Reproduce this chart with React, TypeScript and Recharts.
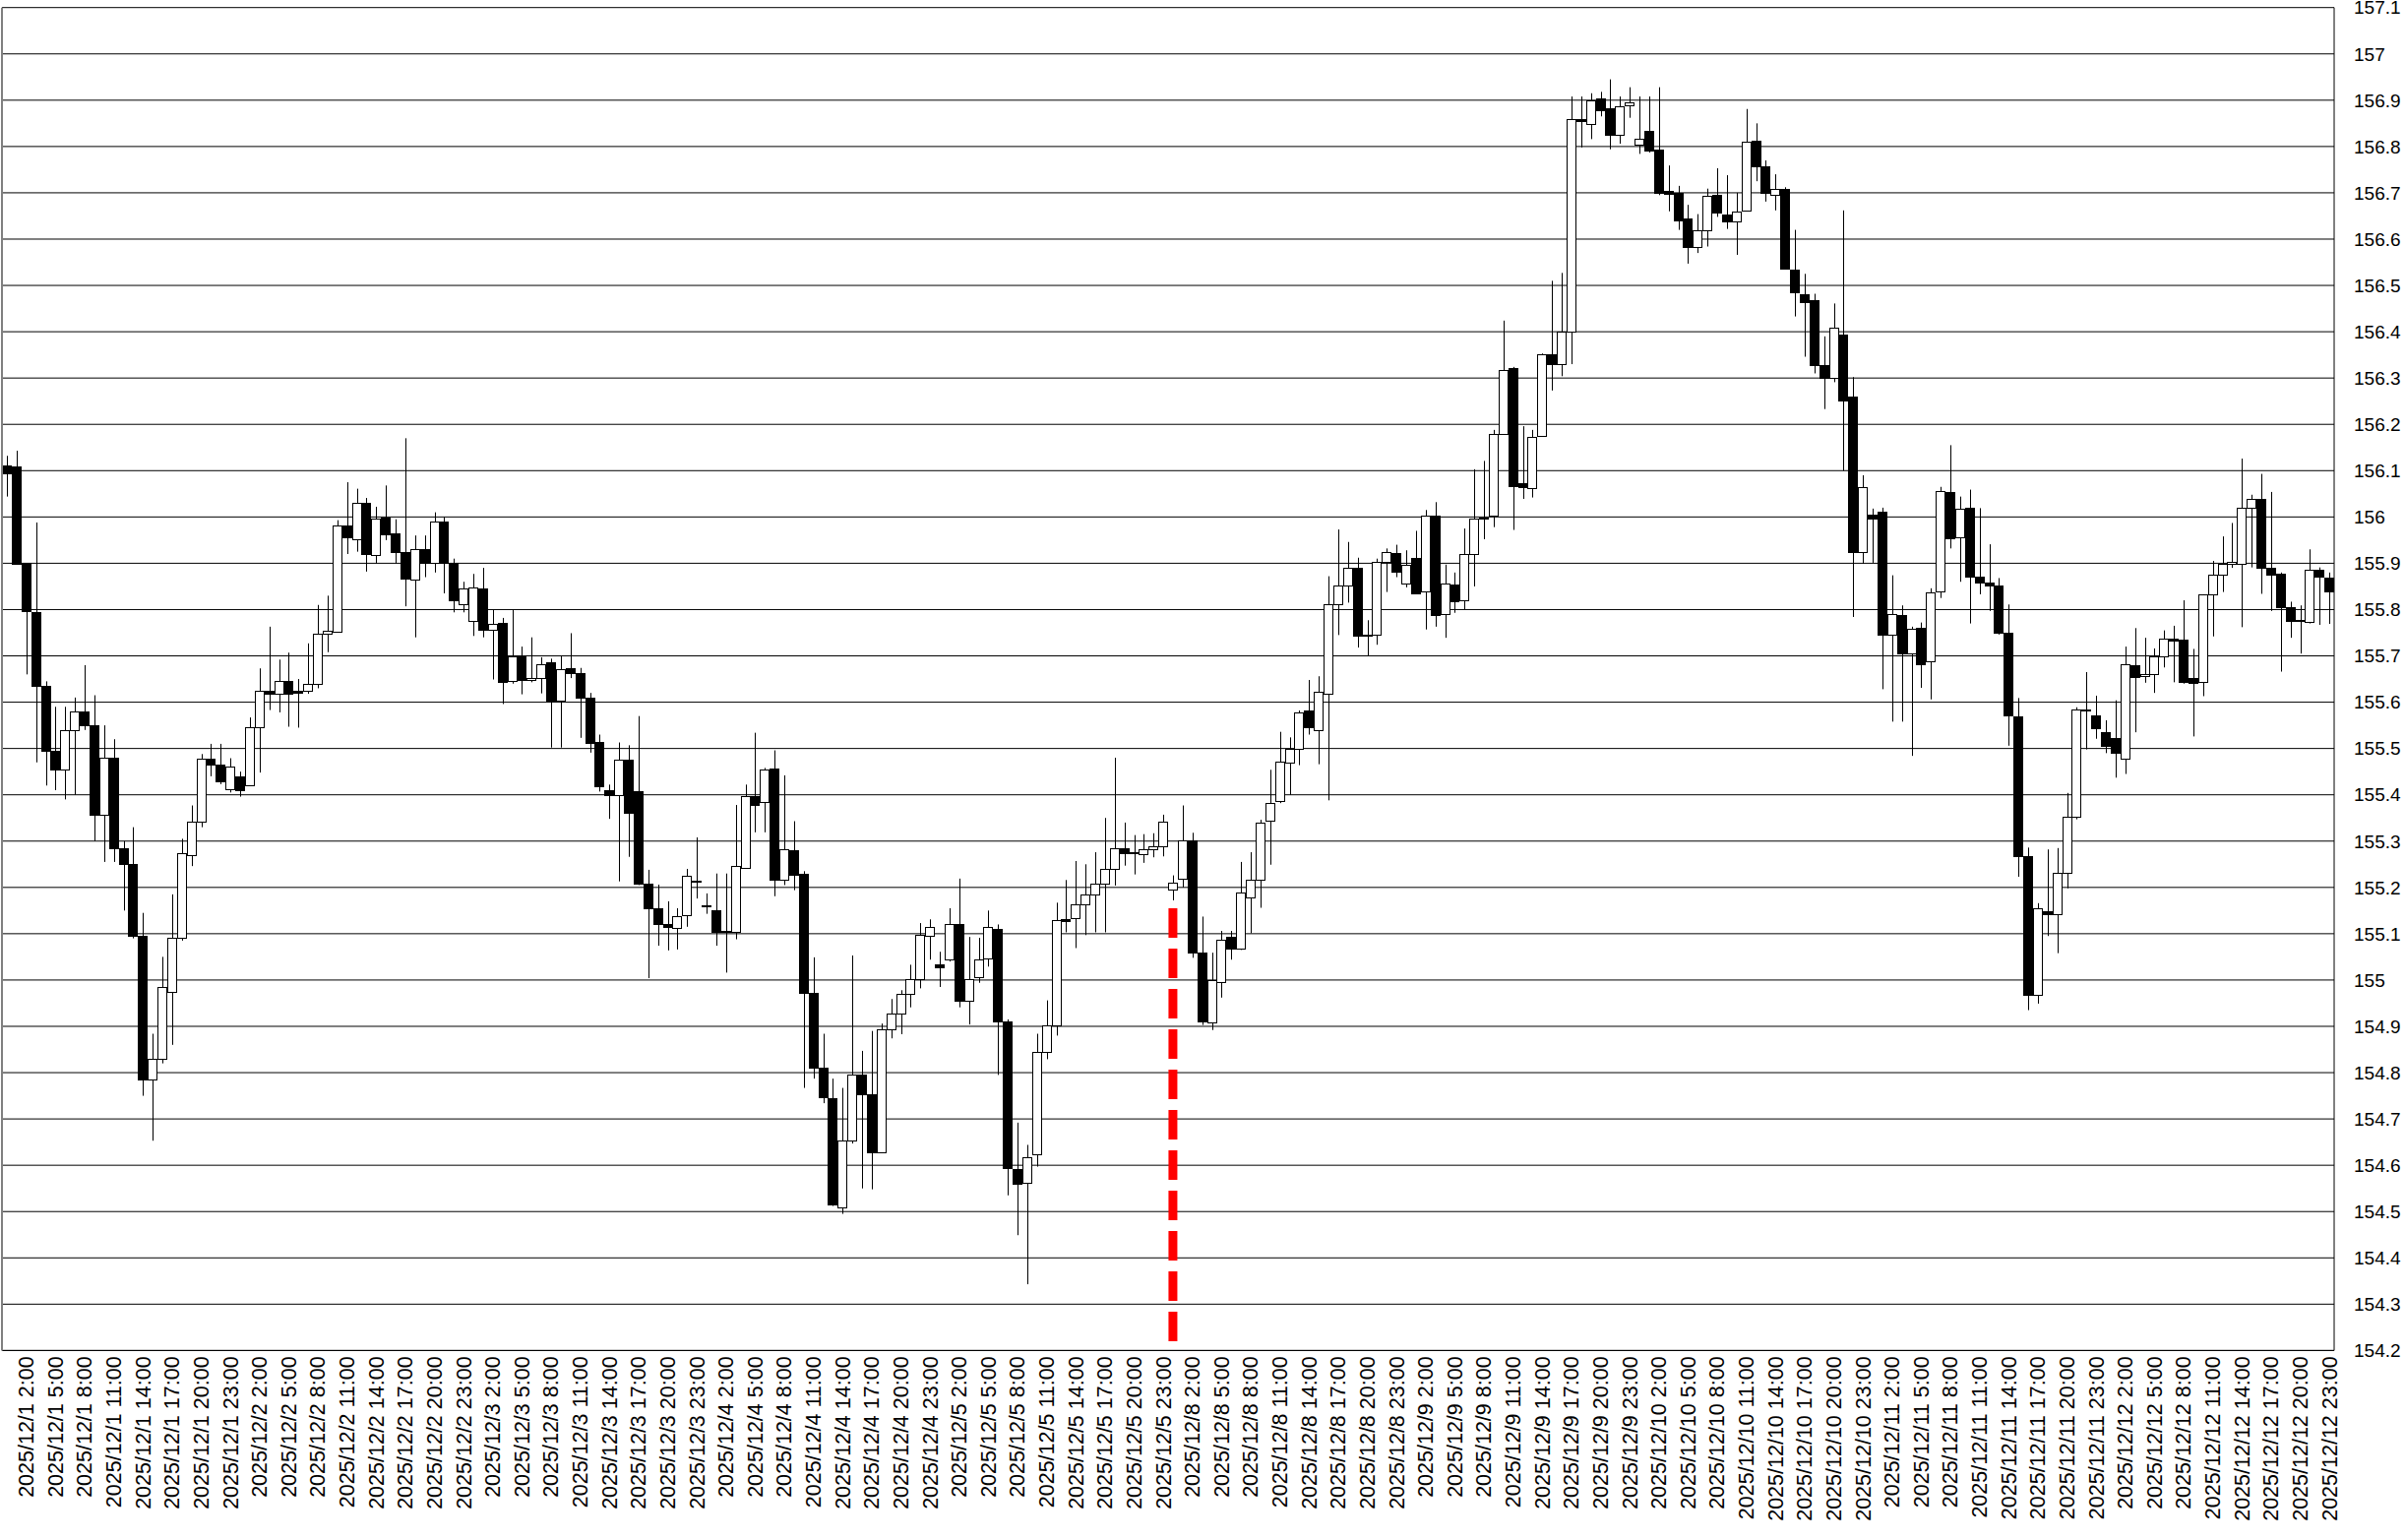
import React from 'react';
import { ComposedChart, Bar, XAxis, YAxis, CartesianGrid, ReferenceLine } from 'recharts';

// trading days shown (weekend skipped), hourly candles
const days = [
  '2025/12/1', '2025/12/2', '2025/12/3', '2025/12/4', '2025/12/5',
  '2025/12/8', '2025/12/9', '2025/12/10', '2025/12/11', '2025/12/12',
];
const hours = [0, 1, 2, 3, 4, 5, 6, 7, 8, 9, 10, 11, 12, 13, 14, 15, 16, 17, 18, 19, 20, 21, 22, 23];

const opens = [
  156.112, 156.11, 155.9, 155.795, 155.635, 155.494, 155.454, 155.54, 155.58, 155.55,
  155.357, 155.48, 155.284, 155.25, 155.095, 154.785, 154.83, 154.975, 155.092, 155.27,
  155.342, 155.479, 155.465, 155.413, 155.44, 155.42, 155.547, 155.625, 155.618, 155.646,
  155.625, 155.625, 155.64, 155.748, 155.752, 155.981, 155.951, 156.03, 155.917, 155.998,
  155.965, 155.925, 155.864, 155.93, 155.9, 155.99, 155.9, 155.812, 155.775, 155.846,
  155.757, 155.772, 155.645, 155.7, 155.649, 155.652, 155.686, 155.603, 155.674, 155.663,
  155.609, 155.515, 155.41, 155.4, 155.475, 155.407, 155.209, 155.154, 155.12, 155.113,
  155.141, 155.215, 155.16, 155.15, 155.105, 155.105, 155.242, 155.398, 155.384, 155.456,
  155.216, 155.281, 155.23, 154.973, 154.81, 154.744, 154.51, 154.654, 154.796, 154.753,
  154.628, 154.893, 154.928, 154.971, 155.003, 155.095, 155.034, 155.044, 155.122, 154.956,
  155.006, 155.046, 155.11, 154.911, 154.592, 154.562, 154.624, 154.844, 154.902, 155.131,
  155.133, 155.164, 155.184, 155.208, 155.239, 155.285, 155.277, 155.272, 155.282, 155.288,
  155.195, 155.219, 155.302, 155.059, 154.909, 154.995, 155.093, 155.067, 155.179, 155.217,
  155.344, 155.386, 155.47, 155.499, 155.582, 155.54, 155.618, 155.812, 155.851, 155.891,
  155.743, 155.745, 155.903, 155.923, 155.856, 155.911, 155.84, 156.002, 155.791, 155.854,
  155.821, 155.921, 155.999, 156.003, 156.18, 156.321, 156.073, 156.062, 156.176, 156.351,
  156.33, 156.401, 156.86, 156.849, 156.903, 156.882, 156.826, 156.89, 156.805, 156.833,
  156.793, 156.704, 156.699, 156.644, 156.584, 156.62, 156.695, 156.653, 156.639, 156.661,
  156.812, 156.757, 156.696, 156.708, 156.535, 156.482, 156.468, 156.328, 156.3, 156.394,
  156.259, 155.924, 156.005, 156.012, 155.745, 155.789, 155.705, 155.76, 155.689, 155.839,
  156.053, 155.957, 156.019, 155.871, 155.858, 155.852, 155.75, 155.569, 155.268, 154.967,
  155.148, 155.142, 155.231, 155.353, 155.584, 155.571, 155.535, 155.522, 155.478, 155.679,
  155.656, 155.661, 155.7, 155.737, 155.735, 155.653, 155.644, 155.833, 155.875, 155.898,
  155.899, 156.02, 156.04, 155.891, 155.878, 155.806, 155.775, 155.774, 155.885, 155.87,
];

const highs = [
  156.132, 156.143, 155.9, 155.988, 155.645, 155.59, 155.59, 155.61, 155.68, 155.615,
  155.55, 155.52, 155.3, 155.33, 155.145, 154.884, 155.05, 155.185, 155.305, 155.377,
  155.488, 155.51, 155.51, 155.479, 155.45, 155.567, 155.673, 155.763, 155.692, 155.707,
  155.65, 155.727, 155.81, 155.83, 155.993, 156.075, 156.061, 156.041, 156.022, 156.068,
  155.995, 156.17, 155.96, 155.96, 156.01, 156.0, 155.91, 155.86, 155.877, 155.89,
  155.8, 155.782, 155.8, 155.72, 155.74, 155.697, 155.694, 155.7, 155.749, 155.674,
  155.62, 155.53, 155.422, 155.513, 155.507, 155.57, 155.238, 155.206, 155.17, 155.155,
  155.24, 155.308, 155.187, 155.23, 155.23, 155.378, 155.422, 155.534, 155.458, 155.496,
  155.442, 155.343, 155.235, 155.049, 154.884, 154.787, 154.767, 155.053, 154.847, 154.89,
  154.906, 154.959, 154.978, 155.033, 155.123, 155.131, 155.061, 155.155, 155.219, 155.093,
  155.091, 155.15, 155.12, 154.915, 154.692, 154.644, 154.884, 154.956, 155.167, 155.216,
  155.257, 155.25, 155.276, 155.35, 155.48, 155.34, 155.313, 155.315, 155.317, 155.357,
  155.226, 155.377, 155.318, 155.137, 155.059, 155.106, 155.106, 155.255, 155.276, 155.346,
  155.454, 155.536, 155.524, 155.582, 155.648, 155.656, 155.872, 155.973, 155.946, 155.912,
  155.777, 155.91, 155.932, 155.94, 155.928, 155.97, 156.015, 156.032, 155.897, 155.88,
  155.975, 156.103, 156.121, 156.188, 156.424, 156.324, 156.196, 156.188, 156.353, 156.51,
  156.527, 156.908, 156.908, 156.915, 156.918, 156.945, 156.908, 156.928, 156.908, 156.908,
  156.928, 156.759, 156.715, 156.674, 156.654, 156.709, 156.753, 156.738, 156.7, 156.881,
  156.85, 156.77, 156.74, 156.712, 156.62, 156.525, 156.482, 156.39, 156.461, 156.662,
  156.302, 156.09, 156.018, 156.02, 155.874, 155.809, 155.763, 155.772, 155.846, 156.065,
  156.155, 156.044, 156.059, 156.019, 155.941, 155.868, 155.811, 155.609, 155.286, 155.166,
  155.282, 155.285, 155.404, 155.589, 155.665, 155.614, 155.561, 155.604, 155.72, 155.76,
  155.739, 155.716, 155.755, 155.765, 155.82, 155.715, 155.833, 155.905, 155.958, 155.987,
  156.126, 156.048, 156.093, 156.054, 155.88, 155.817, 155.809, 155.93, 155.891, 155.88,
];

const lows = [
  156.044, 155.898, 155.66, 155.47, 155.42, 155.41, 155.39, 155.4, 155.54, 155.3,
  155.255, 155.255, 155.15, 155.09, 154.75, 154.653, 154.82, 154.86, 155.085, 155.246,
  155.33, 155.44, 155.423, 155.405, 155.396, 155.42, 155.448, 155.583, 155.578, 155.547,
  155.545, 155.618, 155.63, 155.708, 155.752, 155.92, 155.925, 155.882, 155.9, 155.95,
  155.9, 155.807, 155.74, 155.87, 155.88, 155.835, 155.794, 155.794, 155.743, 155.74,
  155.649, 155.596, 155.64, 155.617, 155.643, 155.619, 155.502, 155.502, 155.652, 155.523,
  155.491, 155.407, 155.348, 155.213, 155.266, 155.205, 155.004, 155.074, 155.064, 155.066,
  155.115, 155.176, 155.143, 155.074, 155.016, 155.088, 155.242, 155.319, 155.319, 155.181,
  155.205, 155.194, 154.767, 154.787, 154.734, 154.512, 154.495, 154.647, 154.55, 154.548,
  154.626, 154.874, 154.883, 154.941, 154.982, 155.044, 154.985, 155.04, 154.941, 154.904,
  154.994, 155.029, 154.795, 154.535, 154.449, 154.343, 154.597, 154.829, 154.88, 155.103,
  155.069, 155.097, 155.103, 155.103, 155.204, 155.247, 155.228, 155.253, 155.265, 155.267,
  155.172, 155.2, 155.048, 154.903, 154.892, 154.962, 155.044, 155.065, 155.101, 155.156,
  155.249, 155.382, 155.4, 155.464, 155.53, 155.466, 155.388, 155.745, 155.815, 155.718,
  155.701, 155.724, 155.838, 155.87, 155.848, 155.834, 155.757, 155.763, 155.739, 155.793,
  155.799, 155.85, 155.952, 155.978, 156.18, 155.972, 156.039, 156.042, 156.176, 156.273,
  156.304, 156.33, 156.798, 156.816, 156.865, 156.794, 156.806, 156.862, 156.784, 156.787,
  156.695, 156.66, 156.62, 156.547, 156.57, 156.584, 156.648, 156.622, 156.566, 156.661,
  156.725, 156.681, 156.662, 156.537, 156.433, 156.346, 156.31, 156.233, 156.291, 156.1,
  155.784, 155.899, 155.901, 155.628, 155.558, 155.558, 155.484, 155.631, 155.606, 155.825,
  155.932, 155.86, 155.77, 155.833, 155.797, 155.746, 155.506, 155.223, 154.935, 154.949,
  155.095, 155.058, 155.198, 155.347, 155.498, 155.521, 155.49, 155.437, 155.445, 155.535,
  155.642, 155.62, 155.675, 155.643, 155.64, 155.526, 155.613, 155.742, 155.838, 155.89,
  155.762, 155.891, 155.834, 155.797, 155.666, 155.739, 155.705, 155.77, 155.767, 155.769,
];

const closes = [
  156.095, 155.898, 155.797, 155.635, 155.494, 155.454, 155.54, 155.58, 155.55, 155.357,
  155.48, 155.284, 155.25, 155.095, 154.785, 154.829, 154.985, 155.092, 155.273, 155.342,
  155.479, 155.465, 155.43, 155.46, 155.41, 155.547, 155.625, 155.618, 155.646, 155.618,
  155.62, 155.64, 155.748, 155.754, 155.981, 155.956, 156.03, 155.919, 155.996, 155.962,
  155.925, 155.867, 155.93, 155.9, 155.99, 155.9, 155.821, 155.845, 155.848, 155.757,
  155.77, 155.644, 155.699, 155.649, 155.652, 155.683, 155.603, 155.672, 155.663, 155.61,
  155.513, 155.418, 155.4, 155.475, 155.362, 155.208, 155.154, 155.12, 155.114, 155.138,
  155.226, 155.212, 155.162, 155.103, 155.107, 155.246, 155.398, 155.378, 155.455, 155.216,
  155.282, 155.228, 154.973, 154.81, 154.746, 154.516, 154.654, 154.796, 154.753, 154.628,
  154.893, 154.928, 154.971, 155.003, 155.098, 155.114, 155.028, 155.122, 154.955, 155.003,
  155.045, 155.114, 154.91, 154.595, 154.561, 154.617, 154.844, 154.902, 155.13, 155.128,
  155.164, 155.184, 155.208, 155.239, 155.285, 155.275, 155.275, 155.282, 155.288, 155.342,
  155.21, 155.302, 155.059, 154.911, 154.999, 155.088, 155.067, 155.19, 155.217, 155.34,
  155.382, 155.471, 155.5, 155.578, 155.547, 155.622, 155.812, 155.851, 155.891, 155.743,
  155.745, 155.903, 155.925, 155.881, 155.897, 155.836, 156.002, 155.788, 155.856, 155.818,
  155.921, 155.997, 155.998, 156.18, 156.318, 156.066, 156.064, 156.173, 156.351, 156.33,
  156.401, 156.86, 156.856, 156.899, 156.879, 156.826, 156.887, 156.896, 156.817, 156.791,
  156.7, 156.697, 156.641, 156.584, 156.619, 156.693, 156.658, 156.639, 156.659, 156.811,
  156.757, 156.699, 156.708, 156.537, 156.485, 156.464, 156.328, 156.3, 156.408, 156.252,
  155.924, 156.065, 155.997, 155.745, 155.791, 155.705, 155.759, 155.683, 155.837, 156.056,
  155.954, 156.017, 155.871, 155.858, 155.852, 155.75, 155.571, 155.268, 154.969, 155.156,
  155.142, 155.231, 155.353, 155.585, 155.582, 155.543, 155.506, 155.491, 155.683, 155.654,
  155.66, 155.7, 155.737, 155.734, 155.643, 155.641, 155.833, 155.875, 155.899, 155.902,
  156.02, 156.04, 155.891, 155.875, 155.806, 155.775, 155.778, 155.885, 155.872, 155.84,
];

const yTicks = [
  154.2, 154.3, 154.4, 154.5, 154.6, 154.7, 154.8, 154.9, 155, 155.1,
  155.2, 155.3, 155.4, 155.5, 155.6, 155.7, 155.8, 155.9, 156, 156.1,
  156.2, 156.3, 156.4, 156.5, 156.6, 156.7, 156.8, 156.9, 157, 157.1,
];

const categories = days.flatMap((d) => hours.map((h) => `${d} ${h}:00`));
// every third hour gets a label, starting at 2:00
const xTicks = categories.filter((_, i) => i % 3 === 2);
// the week break is marked under the first Monday candle
const markerCategory = categories[120];
const markerTop = 155.155;

const data = categories.map((t, i) => ({
  t,
  o: opens[i],
  h: highs[i],
  l: lows[i],
  c: closes[i],
  range: [lows[i], highs[i]],
}));

const FONT = '"Liberation Sans", Arial, sans-serif';

const Candle = (props: any) => {
  const { x, y, width, height, payload } = props;
  const top = Math.min(y, y + height);
  const bot = Math.max(y, y + height);
  const { o, h, l, c } = payload;
  const py = (p: number) => top + ((h - p) / (h - l || 1)) * (bot - top);
  const x0 = Math.round(x);
  const x1 = Math.round(x + width);
  const cx = Math.floor((x0 + x1) / 2) + 0.5;
  const yo = py(o);
  const yc = py(c);
  const bt = Math.round(Math.min(yo, yc)) + 0.5;
  let bb = Math.round(Math.max(yo, yc)) + 0.5;
  if (bb - bt < 1) bb = bt + 1;
  return (
    <g>
      <line x1={cx} x2={cx} y1={top} y2={bot} stroke="#000" strokeWidth={1} />
      <rect
        x={x0 + 0.5}
        y={bt}
        width={x1 - x0 - 1}
        height={bb - bt}
        fill={c >= o ? '#fff' : '#000'}
        stroke="#000"
        strokeWidth={1}
      />
    </g>
  );
};

const XTick = (props: any) => {
  const { x, y, payload } = props;
  return (
    <text
      x={x}
      y={y}
      transform={`rotate(-90 ${x} ${y})`}
      textAnchor="end"
      dy="0.35em"
      fontSize={21.5}
      fontFamily={FONT}
      fill="#000"
    >
      {payload.value}
    </text>
  );
};

const fmt = (v: number) => String(Number(v.toFixed(1)));

export default function App() {
  return (
    <div style={{ position: 'absolute', left: 0, top: 0, background: '#fff' }}>
      <ComposedChart
        width={2444}
        height={1565}
        data={data}
        margin={{ top: 7.7, right: 0, left: 0, bottom: 0 }}
        barCategoryGap={0}
        barGap={0}
      >
        <CartesianGrid vertical={false} stroke="#000" strokeWidth={1} />
        <XAxis
          dataKey="t"
          ticks={xTicks}
          interval={0}
          height={192.6}
          tickSize={0}
          tickMargin={6}
          tickLine={false}
          axisLine={{ stroke: '#000' }}
          tick={<XTick />}
        />
        <YAxis
          yAxisId="l"
          orientation="left"
          width={2}
          domain={[154.2, 157.1]}
          ticks={yTicks}
          tick={false}
          tickLine={false}
          axisLine={{ stroke: '#808080', strokeWidth: 2 }}
        />
        <YAxis
          orientation="right"
          width={72}
          domain={[154.2, 157.1]}
          ticks={yTicks}
          interval={0}
          allowDataOverflow
          tickSize={0}
          tickMargin={20}
          tickLine={false}
          tickFormatter={fmt}
          axisLine={{ stroke: '#000' }}
          tick={{ fontSize: 19, fontFamily: FONT, fill: '#000' }}
        />
        <ReferenceLine
          segment={[
            { x: markerCategory, y: markerTop },
            { x: markerCategory, y: 154.2 },
          ]}
          stroke="#ff0000"
          strokeWidth={9}
          strokeDasharray="30 11"
        />
        <Bar dataKey="range" shape={<Candle />} isAnimationActive={false} />
      </ComposedChart>
    </div>
  );
}
